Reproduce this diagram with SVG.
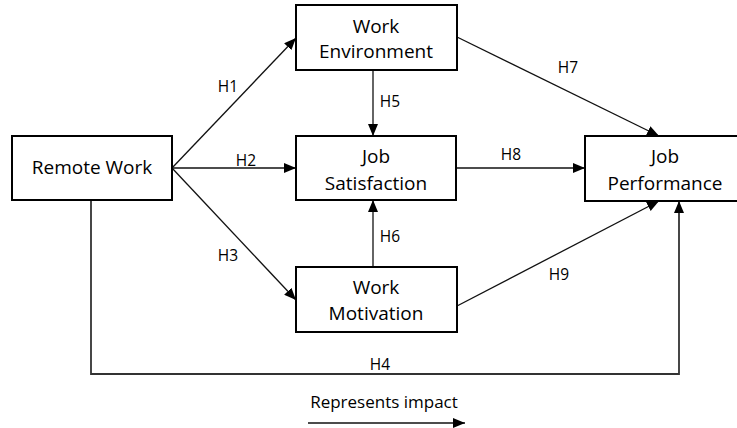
<svg xmlns="http://www.w3.org/2000/svg" width="737" height="428" viewBox="0 0 737 428">
<style>
.box{fill:#fff;stroke:#000;stroke-width:2}
.t{font-family:"Open Sans","Noto Sans",sans-serif;font-size:19px;fill:#000;text-anchor:middle}
.h{font-family:"Open Sans","Noto Sans",sans-serif;font-size:15.5px;fill:#000;text-anchor:middle}
.c{fill:none;stroke:#111;stroke-width:1.3}
.ch{fill:none;stroke:#333;stroke-width:1.8}
</style>
<defs>
<marker id="ah" viewBox="0 0 12 10" refX="12" refY="5" markerWidth="12" markerHeight="10" markerUnits="userSpaceOnUse" orient="auto">
<path d="M0,0 L12,5 L0,10 Z" fill="#000"/>
</marker>
</defs>
<g id="connectors">
<line class="c" x1="172" y1="168" x2="296" y2="38" marker-end="url(#ah)"/>
<line class="c" x1="172" y1="168" x2="296" y2="168" marker-end="url(#ah)"/>
<line class="c" x1="172" y1="168" x2="296" y2="300" marker-end="url(#ah)"/>
<line class="c" x1="373" y1="70" x2="373" y2="136" marker-end="url(#ah)"/>
<line class="c" x1="373" y1="267" x2="373" y2="200" marker-end="url(#ah)"/>
<line class="c" x1="457" y1="37" x2="659" y2="136" marker-end="url(#ah)"/>
<line class="c" x1="457" y1="168" x2="585" y2="168" marker-end="url(#ah)"/>
<line class="c" x1="457" y1="306" x2="659" y2="201" marker-end="url(#ah)"/>
<polyline class="ch" points="91,200 91,374 679,374 679,201" marker-end="url(#ah)"/>
<text class="h" x="228" y="92">H1</text>
<text class="h" x="246" y="166">H2</text>
<text class="h" x="228" y="261">H3</text>
<text class="h" x="390" y="107">H5</text>
<text class="h" x="390" y="242">H6</text>
<text class="h" x="568" y="73">H7</text>
<text class="h" x="511" y="160">H8</text>
<text class="h" x="559" y="280">H9</text>
<text class="h" x="380" y="370">H4</text>
</g>
<g id="remote-work">
<rect class="box" x="12" y="136" width="160" height="64"/>
<text class="t" x="92" y="174">Remote Work</text>
</g>
<g id="work-environment">
<rect class="box" x="296" y="5" width="161" height="65"/>
<text class="t" x="376" y="33">Work</text>
<text class="t" x="376" y="58">Environment</text>
</g>
<g id="job-satisfaction">
<rect class="box" x="296" y="136" width="160" height="64"/>
<text class="t" x="376" y="163">Job</text>
<text class="t" x="376" y="190">Satisfaction</text>
</g>
<g id="work-motivation">
<rect class="box" x="296" y="267" width="161" height="65"/>
<text class="t" x="376" y="294">Work</text>
<text class="t" x="376" y="320">Motivation</text>
</g>
<g id="job-performance">
<rect class="box" x="585" y="136" width="160" height="65"/>
<text class="t" x="665" y="163">Job</text>
<text class="t" x="665" y="190">Performance</text>
</g>
<g id="legend">
<text class="h" x="384" y="408" style="font-size:17px">Represents impact</text>
<line class="c" x1="308" y1="423" x2="465" y2="423" marker-end="url(#ah)"/>
</g>
</svg>
